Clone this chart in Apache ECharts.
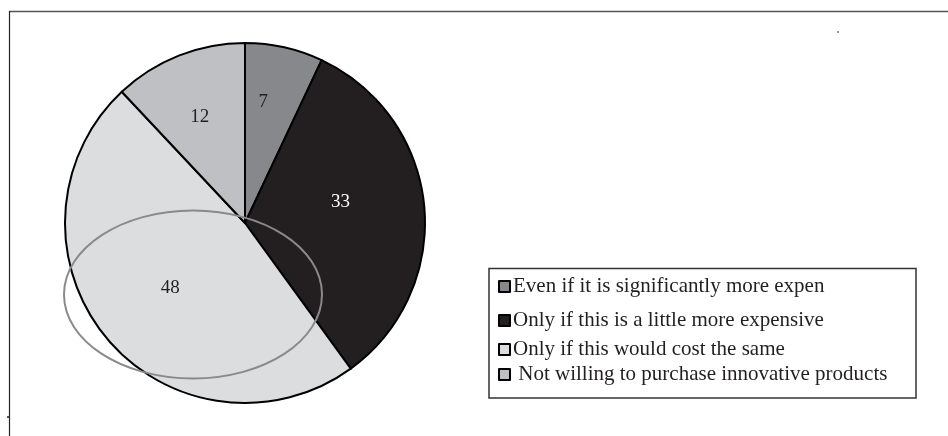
<!DOCTYPE html>
<html>
<head>
<meta charset="utf-8">
<script src="https://cdn.jsdelivr.net/npm/echarts@6/dist/echarts.min.js"></script>
<style>
  html, body { margin: 0; padding: 0; background: #fff; }
  #chart { width: 948px; height: 436px; }
</style>
</head>
<body>
<div id="chart"></div>
<script>
// Willingness to pay for innovative products (%)
const categories = [
  'Even if it is significantly more expen',
  'Only if this is a little more expensive',
  'Only if this would cost the same',
  ' Not willing to purchase innovative products'
];
const shares = [7, 33, 48, 12];
const sliceColors = ['#87888b', '#231f20', '#dcdddf', '#bfc0c3'];
const labelColors = ['#231f20', '#ffffff', '#231f20', '#231f20'];

// nudges for slice labels away from the default mid-radius spot
const labelNudge = [[-2, -30], [3, -12], [-3, 6], [-11, -20]];
// vertical centre of each legend row
const legendRowY = [287, 321, 350, 375];

const serif = '"Liberation Serif", "DejaVu Serif", serif';

const chart = echarts.init(document.getElementById('chart'), null, { renderer: 'canvas' });

const legends = categories.map((name, i) => ({
  data: [name],
  left: 498,
  top: legendRowY[i] - 11,
  orient: 'vertical',
  icon: 'rect',
  itemWidth: 11,
  itemHeight: 11,
  itemGap: 0,
  padding: 0,
  selectedMode: false,
  itemStyle: { borderColor: '#000', borderWidth: 2 },
  textStyle: { fontFamily: serif, fontSize: 21, color: '#231f20', padding: [0, 0, 0, -2] }
}));

chart.setOption({
  animation: false,
  backgroundColor: '#ffffff',
  legend: legends,
  series: [{
    type: 'pie',
    center: [245, 223],
    radius: 180,
    startAngle: 90,
    clockwise: true,
    silent: true,
    itemStyle: { borderColor: '#000', borderWidth: 2 },
    label: {
      show: true,
      position: 'inside',
      fontFamily: serif,
      fontSize: 19,
      formatter: p => String(p.value)
    },
    labelLine: { show: false },
    emphasis: { disabled: true },
    data: categories.map((name, i) => ({
      name,
      value: shares[i],
      itemStyle: { color: sliceColors[i] },
      label: { color: labelColors[i], offset: labelNudge[i] }
    }))
  }],
  graphic: [
    // figure frame (top and left edges)
    { type: 'line', shape: { x1: 9, y1: 11.5, x2: 948, y2: 11.5 }, style: { stroke: '#555', lineWidth: 1.5 }, silent: true },
    { type: 'line', shape: { x1: 9.5, y1: 11, x2: 9.5, y2: 436 }, style: { stroke: '#222', lineWidth: 1.2 }, silent: true },
    { type: 'line', shape: { x1: 7, y1: 417, x2: 9, y2: 417 }, style: { stroke: '#222', lineWidth: 1.5 }, silent: true },
    { type: 'rect', shape: { x: 837, y: 31, width: 2, height: 2 }, style: { fill: '#999' }, silent: true },
    // legend box
    { type: 'rect', shape: { x: 489, y: 268.5, width: 427, height: 129.5 }, style: { fill: 'none', stroke: '#333', lineWidth: 1.5 }, silent: true },
    // gray ellipse outline over the pie
    { type: 'ellipse', z: 100, shape: { cx: 193, cy: 294.5, rx: 129, ry: 84 }, style: { fill: 'none', stroke: '#8a8a8a', lineWidth: 2 }, silent: true }
  ]
});
</script>
</body>
</html>
